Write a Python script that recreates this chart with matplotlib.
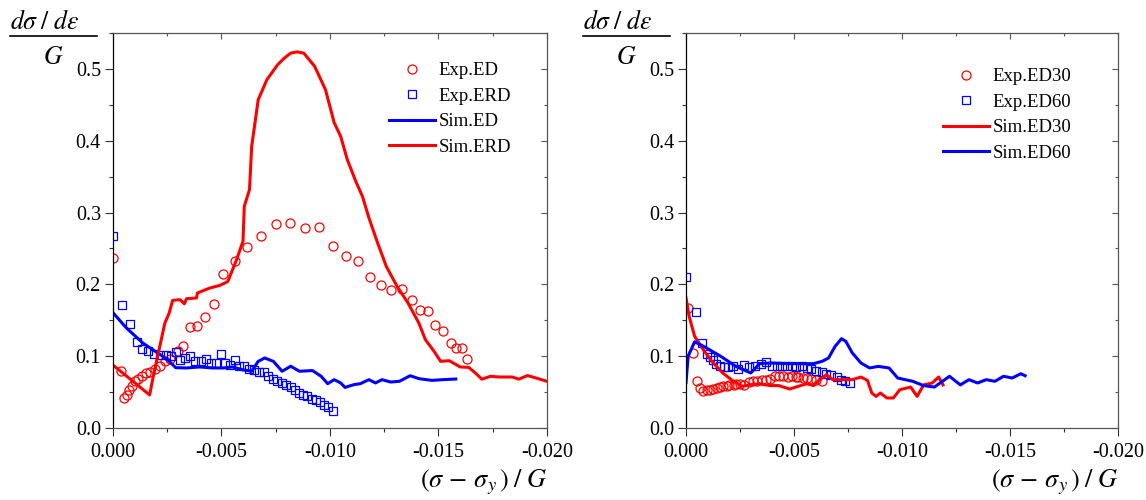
import matplotlib
matplotlib.use("Agg")
import matplotlib.pyplot as plt
from matplotlib.lines import Line2D
from matplotlib.ticker import MultipleLocator, FormatStrFormatter

plt.rcParams['font.family'] = ['Liberation Serif', 'DejaVu Serif']
plt.rcParams['mathtext.fontset'] = 'stix'

RED = '#ff0000'
BLUE = '#0000ff'

# ---- left panel: ED vs ERD ----
exp_ed_x = [0.0, -0.0004, -0.00052, -0.00064, -0.00077, -0.00087, -0.00103, -0.00118, -0.00133,
            -0.00153, -0.00172, -0.00195, -0.00218, -0.0024, -0.00264, -0.00302, -0.00325,
            -0.00356, -0.0039, -0.00426, -0.00466, -0.0051, -0.00563, -0.0062, -0.00683,
            -0.0075, -0.00816, -0.00885, -0.0095, -0.01013, -0.01074, -0.0113, -0.01185,
            -0.01234, -0.01281, -0.0133, -0.01377, -0.01415, -0.0145, -0.01485, -0.0152,
            -0.01556, -0.0158, -0.0161, -0.01633]
exp_ed_y = [0.237, 0.079, 0.042, 0.046, 0.053, 0.058, 0.065, 0.068, 0.072,
            0.076, 0.078, 0.082, 0.086, 0.093, 0.0965, 0.107, 0.114,
            0.141, 0.1425, 0.155, 0.172, 0.2145, 0.232, 0.2515, 0.268,
            0.2845, 0.286, 0.2785, 0.28, 0.254, 0.24, 0.233, 0.21,
            0.1986, 0.1917, 0.194, 0.1778, 0.165, 0.163, 0.143, 0.1355,
            0.118, 0.112, 0.112, 0.096]

exp_erd_x = [0.0, -0.00044, -0.0008, -0.0011, -0.00136, -0.00164, -0.0019, -0.00218, -0.00244,
             -0.00268, -0.00291, -0.0031, -0.00333, -0.00356, -0.00379, -0.00405, -0.0043,
             -0.00453, -0.00476, -0.00497, -0.00517, -0.0054, -0.00563, -0.00583, -0.00604,
             -0.00627, -0.0065, -0.00675, -0.00697, -0.00716, -0.00736, -0.00755, -0.00778,
             -0.00798, -0.0082, -0.0084, -0.0086, -0.00877, -0.00896, -0.00916, -0.00936,
             -0.00955, -0.00973, -0.00993, -0.01016]
exp_erd_y = [0.268, 0.171, 0.145, 0.12, 0.110, 0.107, 0.1035, 0.102, 0.102,
             0.0997, 0.106, 0.095, 0.098, 0.1007, 0.0928, 0.0937, 0.096,
             0.0905, 0.0905, 0.1035, 0.0905, 0.088, 0.095, 0.0858, 0.087,
             0.082, 0.081, 0.0774, 0.0774, 0.072, 0.068, 0.066, 0.0627,
             0.0603, 0.057, 0.0533, 0.0487, 0.0464, 0.044, 0.0408, 0.0385,
             0.0357, 0.0325, 0.0287, 0.024]

sim_ed_x = [0.0, -0.00064, -0.0014, -0.0022, -0.0026, -0.0029, -0.0034, -0.004, -0.0046,
            -0.0051, -0.0055, -0.006, -0.0064, -0.0067, -0.007, -0.0074, -0.0078, -0.0082,
            -0.0086, -0.0092, -0.0096, -0.0099, -0.0102, -0.0105, -0.0107, -0.0111, -0.0114,
            -0.0118, -0.0121, -0.0124, -0.0128, -0.0132, -0.0137, -0.0141, -0.0147, -0.0152,
            -0.0158]
sim_ed_y = [0.161, 0.139, 0.118, 0.102, 0.093, 0.084, 0.0836, 0.085, 0.0836,
            0.0836, 0.085, 0.081, 0.079, 0.0928, 0.0975, 0.0928, 0.079, 0.086,
            0.079, 0.080, 0.072, 0.0617, 0.0673, 0.0627, 0.0565, 0.0603, 0.0617,
            0.0673, 0.0627, 0.0673, 0.064, 0.065, 0.0728, 0.0687, 0.0663, 0.0673,
            0.0682]

sim_erd_x = [0.0, -0.0017, -0.0019, -0.0022, -0.0024, -0.0026, -0.00276, -0.0031, -0.0033,
             -0.0034, -0.00386, -0.0039, -0.00448, -0.00494, -0.0053, -0.0057, -0.006,
             -0.00606, -0.0063, -0.0064, -0.0067, -0.0071, -0.0076, -0.0079, -0.0082,
             -0.0085, -0.0088, -0.0093, -0.0098, -0.0102, -0.0105, -0.0108, -0.0112,
             -0.0115, -0.0118, -0.0122, -0.0126, -0.0131, -0.0136, -0.0141, -0.0144,
             -0.0148, -0.0151, -0.0155, -0.016, -0.0164, -0.0167, -0.017, -0.0174,
             -0.0178, -0.0184, -0.0187, -0.0191, -0.0195, -0.02]
sim_erd_y = [0.088, 0.046, 0.0766, 0.118, 0.146, 0.16, 0.1777, 0.1787, 0.173,
             0.18, 0.181, 0.188, 0.195, 0.1986, 0.204, 0.234, 0.26,
             0.3086, 0.332, 0.392, 0.457, 0.485, 0.506, 0.515, 0.522,
             0.5237, 0.522, 0.5036, 0.471, 0.425, 0.406, 0.374, 0.343,
             0.3226, 0.2925, 0.2577, 0.225, 0.197, 0.174, 0.146, 0.123,
             0.1067, 0.0928, 0.0937, 0.085, 0.0844, 0.0766, 0.068, 0.072,
             0.071, 0.071, 0.068, 0.073, 0.0696, 0.065]

# ---- right panel: ED30 vs ED60 ----
exp_ed30_x = [-0.0001, -0.00034, -0.0005, -0.00065, -0.0008, -0.00096, -0.0011, -0.00126,
              -0.00142, -0.00157, -0.0017, -0.0019, -0.002, -0.0022, -0.0023, -0.0025,
              -0.0027, -0.0029, -0.0031, -0.0033, -0.0035, -0.0037, -0.0039, -0.0041,
              -0.0043, -0.0045, -0.0047, -0.0049, -0.0051, -0.0052, -0.0054, -0.0056,
              -0.0058, -0.006, -0.0063]
exp_ed30_y = [0.167, 0.105, 0.065, 0.0557, 0.051, 0.0524, 0.0533, 0.0547,
              0.0557, 0.0566, 0.058, 0.059, 0.0593, 0.0603, 0.061, 0.0617,
              0.0603, 0.0635, 0.065, 0.066, 0.0663, 0.0673, 0.0687, 0.072,
              0.0728, 0.072, 0.071, 0.072, 0.071, 0.071, 0.0696, 0.0696,
              0.068, 0.0673, 0.066]

exp_ed60_x = [0.0, -0.00046, -0.00076, -0.00096, -0.0011, -0.00124, -0.0014, -0.00157,
              -0.00176, -0.00196, -0.00219, -0.00242, -0.00269, -0.00293, -0.0032, -0.00346,
              -0.0037, -0.00396, -0.0042, -0.00443, -0.00466, -0.0049, -0.0051, -0.00535,
              -0.00558, -0.0058, -0.00604, -0.0063, -0.0065, -0.00673, -0.00697, -0.00716,
              -0.00736, -0.0076]
exp_ed60_y = [0.21, 0.161, 0.119, 0.1035, 0.099, 0.094, 0.0896, 0.0858,
              0.0844, 0.085, 0.0858, 0.0826, 0.088, 0.085, 0.087, 0.0896,
              0.0914, 0.0858, 0.087, 0.087, 0.087, 0.0868, 0.085, 0.0868,
              0.0836, 0.082, 0.080, 0.078, 0.0756, 0.0733, 0.071, 0.067,
              0.065, 0.0627]

sim_ed30_x = [0.0, -0.00015, -0.0004, -0.0008, -0.0012, -0.0017, -0.0022, -0.0026, -0.0029,
              -0.0034, -0.0039, -0.0043, -0.0048, -0.0053, -0.0056, -0.0059, -0.0062,
              -0.0065, -0.0068, -0.0073, -0.0077, -0.0081, -0.0084, -0.0086, -0.0088,
              -0.009, -0.0093, -0.0096, -0.0099, -0.0104, -0.0107, -0.011, -0.0114,
              -0.0117, -0.0119]
sim_ed30_y = [0.181, 0.155, 0.1276, 0.109, 0.0928, 0.0766, 0.065, 0.058, 0.060,
              0.0617, 0.059, 0.059, 0.0543, 0.059, 0.0617, 0.059, 0.0673,
              0.0742, 0.0673, 0.0673, 0.0673, 0.071, 0.0663, 0.0487, 0.044,
              0.0487, 0.0418, 0.0418, 0.0533, 0.057, 0.044, 0.060, 0.0627,
              0.071, 0.060]

sim_ed60_x = [0.0, -0.0001, -0.0004, -0.0008, -0.0016, -0.0023, -0.003, -0.0034, -0.0039,
              -0.0047, -0.0054, -0.0059, -0.0063, -0.0066, -0.0069, -0.0072, -0.0074,
              -0.0077, -0.0081, -0.0085, -0.0089, -0.0094, -0.0098, -0.0105, -0.011,
              -0.0115, -0.0118, -0.0122, -0.0127, -0.0131, -0.0135, -0.0139, -0.0143,
              -0.0147, -0.0151, -0.0155, -0.0157]
sim_ed60_y = [0.063, 0.1, 0.12, 0.114, 0.1, 0.086, 0.0766, 0.0896, 0.0905,
              0.0896, 0.0896, 0.0896, 0.0928, 0.0975, 0.1136, 0.1244, 0.1206,
              0.1045, 0.0905, 0.0836, 0.0858, 0.0836, 0.0696, 0.065, 0.059,
              0.057, 0.0635, 0.072, 0.060, 0.0673, 0.0627, 0.0673, 0.065,
              0.072, 0.0696, 0.0756, 0.0728]

W, H = 1146, 500
fig = plt.figure(figsize=(W / 100, H / 100), dpi=100)

ax1 = fig.add_axes([112.7 / W, 72 / H, 434.3 / W, 395 / H])
ax2 = fig.add_axes([686 / W, 72 / H, 432 / W, 395 / H])

mk = dict(linestyle='none', markerfacecolor='none', markeredgewidth=0.9)
ax1.plot(exp_ed_x, exp_ed_y, marker='o', markersize=6.5, markeredgecolor=RED, label='Exp.ED', **mk)
ax1.plot(exp_erd_x, exp_erd_y, marker='s', markersize=5.8, markeredgecolor=BLUE, label='Exp.ERD', **mk)
ax1.plot(sim_ed_x, sim_ed_y, color=BLUE, lw=2.2, label='Sim.ED')
ax1.plot(sim_erd_x, sim_erd_y, color=RED, lw=2.2, label='Sim.ERD')

ax2.plot(exp_ed30_x, exp_ed30_y, marker='o', markersize=6.5, markeredgecolor=RED, label='Exp.ED30', **mk)
ax2.plot(exp_ed60_x, exp_ed60_y, marker='s', markersize=5.8, markeredgecolor=BLUE, label='Exp.ED60', **mk)
ax2.plot(sim_ed30_x, sim_ed30_y, color=RED, lw=2.2, label='Sim.ED30')
ax2.plot(sim_ed60_x, sim_ed60_y, color=BLUE, lw=2.2, label='Sim.ED60')

for ax in (ax1, ax2):
    ax.set_xlim(0.0, -0.020)
    ax.set_ylim(0.0, 0.55)
    ax.xaxis.set_major_locator(MultipleLocator(0.005))
    ax.xaxis.set_minor_locator(MultipleLocator(0.0025))
    ax.yaxis.set_major_locator(MultipleLocator(0.1))
    ax.yaxis.set_minor_locator(MultipleLocator(0.05))
    ax.xaxis.set_major_formatter(FormatStrFormatter('%.3f'))
    ax.yaxis.set_major_formatter(FormatStrFormatter('%.1f'))
    ax.tick_params(which='major', direction='out', length=5.5, width=0.8,
                   labelsize=14.5, color='#333333')
    ax.tick_params(which='minor', direction='out', length=3, width=0.8, color='#333333')
    ax.tick_params(axis='x', which='major', pad=5)
    ax.tick_params(axis='y', which='major', pad=3)
    for side in ('top', 'right', 'bottom'):
        ax.spines[side].set_color('#555555')
    for s in ax.spines.values():
        s.set_linewidth(0.9)
    ax.spines['left'].set_color('black')

    # mirrored ticks on top/right, pointing inwards
    top = ax.secondary_xaxis('top')
    top.xaxis.set_major_locator(MultipleLocator(0.005))
    top.xaxis.set_minor_locator(MultipleLocator(0.0025))
    top.tick_params(which='both', direction='in', labeltop=False, color='#555555', width=0.8)
    top.tick_params(which='major', length=4)
    top.tick_params(which='minor', length=2.5)
    top.spines['top'].set_visible(False)
    right = ax.secondary_yaxis('right')
    right.yaxis.set_major_locator(MultipleLocator(0.1))
    right.yaxis.set_minor_locator(MultipleLocator(0.05))
    right.tick_params(which='both', direction='in', labelright=False, color='#555555', width=0.8)
    right.tick_params(which='major', length=4)
    right.tick_params(which='minor', length=2.5)
    right.spines['right'].set_visible(False)

leg_kw = dict(frameon=False, fontsize=13.5, handlelength=2.45, handletextpad=0.2,
              labelspacing=0.45, borderpad=0, borderaxespad=0, loc='upper left')
ax1.legend(bbox_to_anchor=(389 / W, 1 - 62 / H), bbox_transform=fig.transFigure, **leg_kw)
ax2.legend(bbox_to_anchor=(943 / W, 1 - 68 / H), bbox_transform=fig.transFigure, **leg_kw)

# fraction-style y label and x label for each panel
for dx, ax in ((0, ax1), (573.3, ax2)):
    fig.text((10 + dx) / W, 1 - 22 / H, r'$d\sigma\;/\;d\varepsilon$', fontsize=18.5,
             ha='left', va='center')
    fig.add_artist(Line2D([(10 + dx) / W, (97 + dx) / W], [1 - 36 / H, 1 - 36 / H],
                          color='black', lw=1.2, transform=fig.transFigure))
    fig.text((53 + dx) / W, 1 - 58 / H, r'$G$', fontsize=18.5, ha='center', va='center')
    right_edge = ax.get_position().x1
    fig.text(right_edge, 1 - 482 / H, r'$(\sigma\,-\,\sigma_y\,)\;/\;G$', fontsize=19,
             ha='right', va='center')

fig.savefig('out.png', dpi=100)
